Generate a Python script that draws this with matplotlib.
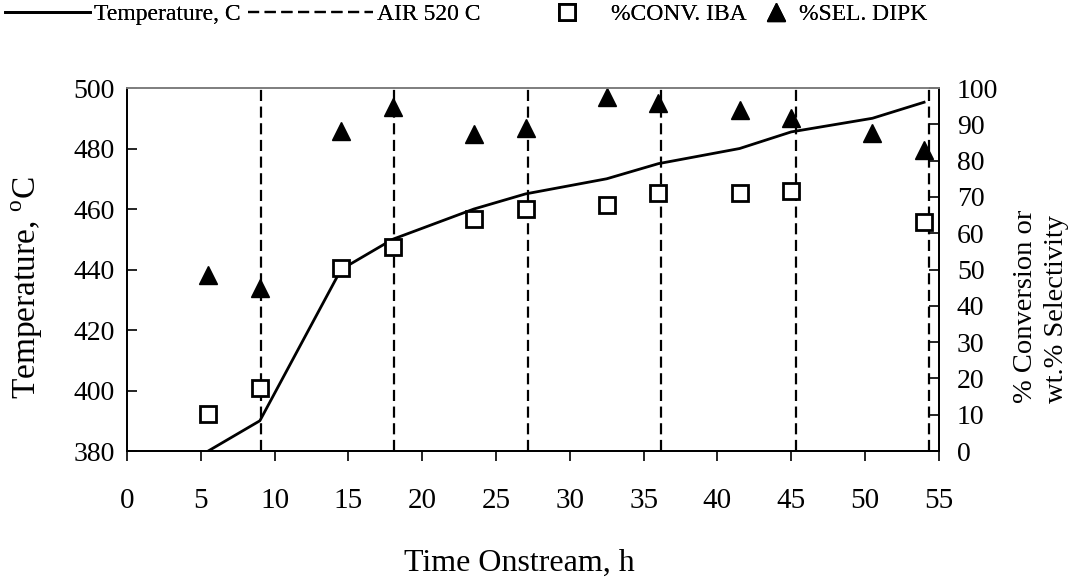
import numpy as np
import matplotlib
matplotlib.use("Agg")
import matplotlib.pyplot as plt

plt.rcParams['font.family'] = ['Liberation Serif', 'DejaVu Serif']
plt.rcParams['mathtext.fontset'] = 'custom'
plt.rcParams['mathtext.rm'] = 'Liberation Serif'

# Datos
time_h = [5.5, 9.0, 14.5, 18.0, 23.5, 27.0, 32.5, 36.0, 41.5, 45.0, 50.5, 54.0]
temp_c = [380, 390, 440, 450, 460, 465, 470, 475, 480, 485.5, 490, 495.3]

conv_time = [5.5, 9.0, 14.5, 18.0, 23.5, 27.0, 32.5, 36.0, 41.5, 45.0, 54.0]
conv_iba = [10.1, 17.4, 50.3, 56.3, 63.9, 66.6, 67.8, 71.0, 71.2, 71.7, 63.2]

sel_time = [5.5, 9.0, 14.5, 18.0, 23.5, 27.0, 32.5, 36.0, 41.5, 45.0, 50.5, 54.0]
sel_dipk = [48.5, 44.8, 88.2, 94.7, 87.3, 88.9, 97.4, 96.0, 93.9, 91.8, 87.5, 82.9]

air_time = [9.05, 18.1, 27.15, 36.2, 45.3, 54.35]

fig = plt.figure(figsize=(10.71, 5.78), dpi=100)
ax = fig.add_axes([0.1186, 0.2197, 0.758, 0.628])
ax2 = ax.twinx()

ln_t, = ax.plot(time_h, temp_c, color='black', lw=2, label='Temperature, C')
air_lines = [ax.axvline(t, color='black', lw=1.6, dashes=(5, 2.5)) for t in air_time]
sq, = ax2.plot(conv_time, conv_iba, 's', ms=12, mfc='white', mec='black',
               mew=2, label='%CONV. IBA')
tri, = ax2.plot(sel_time, sel_dipk, '^', ms=13, color='black',
                label='%SEL. DIPK')
ax2.set_zorder(ax.get_zorder() + 1)
ax2.patch.set_visible(False)

ax.set_xlim(0, 55)
ax.set_ylim(380, 500)
ax2.set_ylim(0, 100)
ax.set_xticks(np.arange(0, 56, 5))
ax.set_yticks(np.arange(380, 501, 20))
ax2.set_yticks(np.arange(0, 101, 10))
ax.set_xticks(air_time, minor=True)

ax.tick_params(axis='x', which='major', direction='out', length=7.5, width=1.2,
               labelsize=21, pad=19)
ax.tick_params(axis='x', which='minor', direction='in', length=7, width=1.2)
ax.tick_params(axis='y', direction='in', length=7, width=1.2, labelsize=20, pad=9)
ax2.tick_params(axis='y', direction='in', length=7, width=1.2, labelsize=20, pad=13)

for a in (ax, ax2):
    for s in ('left', 'right', 'bottom'):
        a.spines[s].set_linewidth(1.3)
        a.spines[s].set_color('black')
    a.spines['top'].set_color('#808080')
    a.spines['top'].set_linewidth(1.3)

fig.text(519 / 1071, 1 - 563 / 578, 'Time Onstream, h', fontsize=23,
         ha='center', va='center')
fig.text(27 / 1071, 1 - 288 / 578, 'Temperature, $^{\\mathrm{o}}$C', fontsize=24,
         rotation=90, ha='center', va='center')
fig.text(1041 / 1071, 1 - 403 / 578, '% Conversion or\nwt.% Selectivity',
         fontsize=20.5, rotation=90, ha='center', va='bottom',
         multialignment='left', linespacing=1.3)

# leyenda: cada entrada en su sitio, como en el original
leg_kw = dict(loc='center left', frameon=False, fontsize=17, borderpad=0,
              borderaxespad=0)
y_leg = 1 - 14 / 578
entries = [
    (ln_t, 'Temperature, C', 5, 3.6, 0.15),
    (air_lines[0], 'AIR 520 C', 248, 5.3, 0.15),
    (sq, '%CONV. IBA', 543, 2.0, 0.9),
    (tri, '%SEL. DIPK', 764, 1.0, 0.5),
]
for h, lab, xpix, hl, hp in entries:
    leg = fig.legend(handles=[h], labels=[lab], bbox_to_anchor=(xpix / 1071, y_leg),
                     handlelength=hl, handletextpad=hp, **leg_kw)
    fig.add_artist(leg)

fig.savefig('out.png', dpi=100)
